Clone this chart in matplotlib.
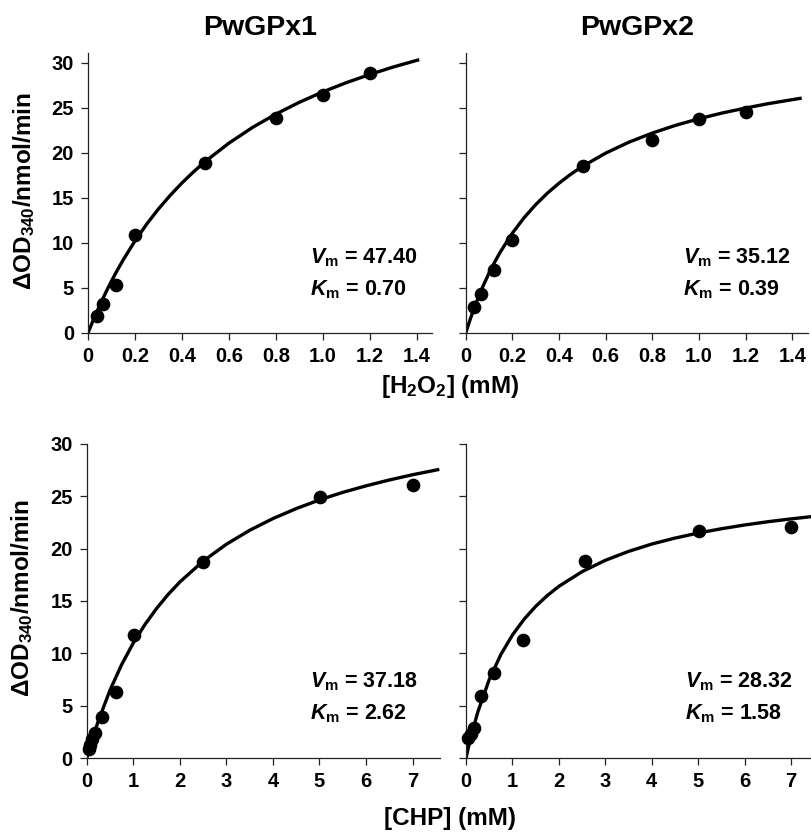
import numpy as np
import matplotlib
matplotlib.use("Agg")
import matplotlib.pyplot as plt

plt.rcParams['font.family'] = ['Liberation Sans', 'DejaVu Sans']
plt.rcParams['font.weight'] = 'bold'
plt.rcParams['mathtext.fontset'] = 'custom'
plt.rcParams['mathtext.rm'] = 'Liberation Sans:bold'
plt.rcParams['mathtext.it'] = 'Liberation Sans:italic:bold'
plt.rcParams['mathtext.bf'] = 'Liberation Sans:bold'

# H2O2 substrate, PwGPx1
h1_x = [0.037, 0.062, 0.118, 0.2, 0.5, 0.8, 1.0, 1.2]
h1_y = [1.9, 3.2, 5.3, 10.85, 18.9, 23.9, 26.4, 28.85]
h1_fit_x = [0, 0.02, 0.05, 0.075, 0.1, 0.125, 0.15, 0.2, 0.25, 0.3, 0.35, 0.4, 0.45, 0.5,
            0.6, 0.7, 0.8, 0.9, 1.0, 1.1, 1.2, 1.3, 1.41]
h1_fit_y = [0, 1.29, 3.08, 4.47, 5.77, 6.99, 8.13, 10.23, 12.10, 13.78, 15.29, 16.67, 17.92, 19.07,
            21.09, 22.83, 24.32, 25.63, 26.79, 27.81, 28.72, 29.55, 30.36]

# H2O2 substrate, PwGPx2
h2_x = [0.036, 0.064, 0.12, 0.2, 0.504, 0.8, 1.0, 1.2]
h2_y = [2.9, 4.3, 7.0, 10.3, 18.55, 21.4, 23.8, 24.6]
h2_fit_x = [0, 0.02, 0.05, 0.075, 0.1, 0.125, 0.15, 0.2, 0.25, 0.3, 0.35, 0.4, 0.45, 0.5,
            0.6, 0.7, 0.8, 0.9, 1.0, 1.1, 1.2, 1.3, 1.44]
h2_fit_y = [0, 1.58, 3.69, 5.25, 6.65, 7.92, 9.07, 11.09, 12.80, 14.26, 15.53, 16.64, 17.63, 18.50,
            19.98, 21.20, 22.21, 23.07, 23.80, 24.44, 24.99, 25.49, 26.09]

# CHP substrate, PwGPx1
c1_x = [0.05, 0.08, 0.12, 0.18, 0.33, 0.62, 1.02, 2.49, 5.01, 7.0]
c1_y = [0.9, 1.3, 1.8, 2.45, 3.9, 6.35, 11.75, 18.75, 24.9, 26.05]
c1_fit_x = [0, 0.1, 0.25, 0.5, 0.75, 1.0, 1.25, 1.5, 1.75, 2.0, 2.5, 3.0, 3.5, 4.0, 4.5,
            5.0, 5.5, 6.0, 6.5, 7.0, 7.575]
c1_fit_y = [0, 1.52, 3.57, 6.49, 8.93, 10.99, 12.75, 14.28, 15.63, 16.81, 18.80, 20.41, 21.74, 22.86, 23.81,
            24.64, 25.36, 25.98, 26.54, 27.04, 27.55]

# CHP substrate, PwGPx2
c2_x = [0.05, 0.1, 0.17, 0.32, 0.61, 1.23, 2.56, 5.01, 7.0]
c2_y = [1.9, 2.3, 2.85, 5.94, 8.17, 11.25, 18.78, 21.7, 22.05]
c2_fit_x = [0, 0.05, 0.1, 0.25, 0.5, 0.75, 1.0, 1.25, 1.5, 1.75, 2.0, 2.5, 3.0, 3.5, 4.0, 4.5,
            5.0, 5.5, 6.0, 6.5, 7.0, 7.45]
c2_fit_y = [0, 1.00, 1.93, 4.36, 7.51, 9.89, 11.76, 13.26, 14.49, 15.52, 16.40, 17.80, 18.88, 19.73, 20.43, 21.00,
            21.48, 21.89, 22.25, 22.56, 22.83, 23.05]

titles = ['PwGPx1', 'PwGPx2']
vm_labels = ['47.40', '35.12', '37.18', '28.32']
km_labels = ['0.70', '0.39', '2.62', '1.58']

top_ticks = [0, 0.2, 0.4, 0.6, 0.8, 1.0, 1.2, 1.4]
top_ticklabels = ['0', '0.2', '0.4', '0.6', '0.8', '1.0', '1.2', '1.4']
bot_ticks = [0, 1, 2, 3, 4, 5, 6, 7]
y_ticks = [0, 5, 10, 15, 20, 25, 30]

W, H = 812, 832
fig = plt.figure(figsize=(W / 100, H / 100), dpi=100)

def box(l, r, b, t):
    return [l / W, 1 - b / H, (r - l) / W, (b - t) / H]

ax_tl = fig.add_axes(box(88, 431.7, 333, 53))
ax_tr = fig.add_axes(box(465.7, 808, 333, 53))
ax_bl = fig.add_axes(box(86.7, 440.5, 758.3, 443.7))
ax_br = fig.add_axes(box(466, 812, 758.3, 443.7))

panels = [
    (ax_tl, h1_x, h1_y, h1_fit_x, h1_fit_y, (0, 1.463), (0, 31.1), 0.945, (8.4, 4.8)),
    (ax_tr, h2_x, h2_y, h2_fit_x, h2_fit_y, (0, 1.467), (0, 31.1), 0.93, (8.4, 4.8)),
    (ax_bl, c1_x, c1_y, c1_fit_x, c1_fit_y, (0, 7.6), (0, 30), 4.8, (7.3, 4.3)),
    (ax_br, c2_x, c2_y, c2_fit_x, c2_fit_y, (0, 7.45), (0, 30), 4.71, (7.3, 4.3)),
]

for i, (ax, x, y, fx, fy, xl, yl, tx, ty) in enumerate(panels):
    ax.plot(fx, fy, color='black', lw=2.4, solid_capstyle='butt', solid_joinstyle='round', zorder=2)
    ax.scatter(x, y, s=78, color='black', zorder=3, clip_on=False)
    ax.set_xlim(*xl)
    ax.set_ylim(*yl)
    for s in ['top', 'right']:
        ax.spines[s].set_visible(False)
    for s in ['left', 'bottom']:
        ax.spines[s].set_linewidth(0.9)
        ax.spines[s].set_color('#222222')
    ax.tick_params(direction='out', length=5, width=0.9, labelsize=14.5, pad=5, color='#222222')
    ax.set_yticks(y_ticks)
    if i < 2:
        ax.set_xticks(top_ticks)
        ax.set_xticklabels(top_ticklabels)
    else:
        ax.set_xticks(bot_ticks)
    if i % 2 == 1:
        ax.set_yticklabels([])
    else:
        ax.set_ylabel(r'$\Delta$OD$_{340}$/nmol/min', fontsize=17.5, fontweight='bold')
    ax.text(tx, ty[0], r'$\mathit{V}_\mathrm{m}$ = ' + vm_labels[i], fontsize=15.5,
            fontweight='bold', va='center', ha='left')
    ax.text(tx, ty[1], r'$\mathit{K}_\mathrm{m}$ = ' + km_labels[i], fontsize=15.5,
            fontweight='bold', va='center', ha='left')

ax_tl.yaxis.set_label_coords(-0.148, 0.507)
ax_bl.yaxis.set_label_coords(-0.146, 0.511)

ax_tl.set_title(titles[0], fontsize=20.5, fontweight='bold', pad=13)
ax_tr.set_title(titles[1], fontsize=20.5, fontweight='bold', pad=13)

fig.text(450 / W, 1 - 386 / H, r'[H$_2$O$_2$] (mM)', fontsize=17.5, fontweight='bold', ha='center', va='center')
fig.text(450 / W, 1 - 818 / H, '[CHP] (mM)', fontsize=17.5, fontweight='bold', ha='center', va='center')

fig.savefig('out.png', dpi=100)
